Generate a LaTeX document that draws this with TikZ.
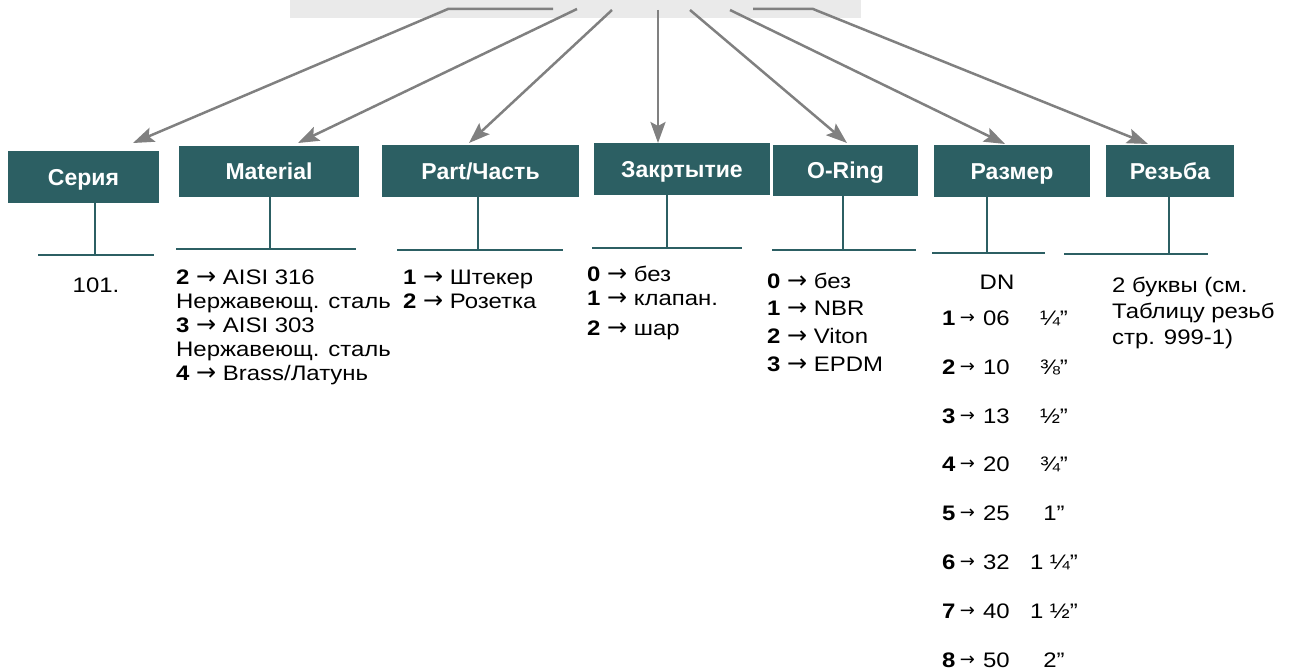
\documentclass[tikz,border=0pt]{standalone}
\usepackage{fontspec}
\setmainfont{Liberation Sans}
\newfontfamily\bodyfont[FakeStretch=1.14]{Liberation Sans}
\newfontfamily\arrowfont{DejaVu Sans}
\usepackage{tikz}
\usetikzlibrary{arrows.meta, positioning}

\definecolor{headteal}{HTML}{2C5F63}
\definecolor{linkgrey}{HTML}{808080}
\definecolor{bargrey}{HTML}{EAEAEA}

\newcommand{\arr}{{\arrowfont\fontsize{24}{24}\selectfont →}}
\newcommand{\sarr}{\raisebox{2pt}{\arrowfont\fontsize{18}{18}\selectfont →}}
\newcommand{\dnrow}[3]{\makebox[41pt][l]{\textbf{#1}\hspace{4.5pt}\sarr}\makebox[41pt][l]{#2}\makebox[60pt][c]{#3}}

\begin{document}
\begin{tikzpicture}[x=1pt, y=-1pt, node distance=33.4pt]
        \tikzstyle{header} = [rectangle, fill=headteal, text=white, inner sep=0pt, text height=16.5pt, text depth=0pt, font=\fontsize{23}{27}\selectfont\bfseries]
        \tikzstyle{stem} = [draw=headteal, line width=2pt]
        \tikzstyle{link} = [draw=linkgrey, line width=2.5pt, -{Stealth[length=21pt, width=15pt, inset=4pt]}]
        \tikzstyle{item} = [inner sep=0pt, align=left, anchor=north west, font=\bodyfont\fontsize{21}{24}\selectfont]
        \tikzstyle{dnrow} = [inner sep=0pt, text height=15pt, text depth=0pt, font=\bodyfont\fontsize{21}{24}\selectfont]

        \useasboundingbox (0,0) rectangle (1303,671);

        % Code bar
        \node (code) [rectangle, fill=bargrey, minimum width=571pt, minimum height=18pt, inner sep=0pt] at (575,9) {};

        % Headers
        \node (serie) [header, minimum width=151pt, minimum height=52pt] at (83.5,177) {Серия};
        \node (mat) [header, minimum width=180pt, minimum height=51pt] at (269,171.5) {Material};
        \node (part) [header, minimum width=197pt, minimum height=52pt] at (480.5,171) {Part/Часть};
        \node (close) [header, minimum width=176pt, minimum height=52pt] at (682,169) {Закртытие};
        \node (ring) [header, minimum width=145pt, minimum height=51pt] at (845.5,170.5) {O-Ring};
        \node (size) [header, minimum width=156pt, minimum height=52pt] at (1012,171) {Размер};
        \node (thread) [header, minimum width=128pt, minimum height=52pt] at (1170,171) {Резьба};

        % Arrow start and end points
        \coordinate (s1) at (553,9);
        \coordinate (b1) at (448,9);
        \coordinate (s2) at (577,9);
        \coordinate (s3) at (612,10);
        \coordinate (s4) at (658,10);
        \coordinate (s5) at (690,10);
        \coordinate (s6) at (730,10);
        \coordinate (s7) at (753,9);
        \coordinate (b7) at (813,9);
        \coordinate (t1) at (133,143);
        \coordinate (t2) at (298,143);
        \coordinate (t3) at (469,143);
        \coordinate (t4) at (658,143);
        \coordinate (t5) at (847,143);
        \coordinate (t6) at (1005,144);
        \coordinate (t7) at (1148,144);

        % Arrows
        \draw [link] (s1) -- (b1) -- (t1);
        \draw [link] (s2) -- (t2);
        \draw [link] (s3) -- (t3);
        \draw [link] (s4) -- (t4);
        \draw [link] (s5) -- (t5);
        \draw [link] (s6) -- (t6);
        \draw [link] (s7) -- (b7) -- (t7);

        % Rules under the headers
        \coordinate (r1) at (95,255);
        \coordinate (r2) at (270,249);
        \coordinate (r3) at (478,250);
        \coordinate (r4) at (667,248);
        \coordinate (r5) at (843,250);
        \coordinate (r6) at (987,253);
        \coordinate (r7) at (1169,254);
        \draw [stem] (serie.south -| r1) -- (r1);
        \draw [stem] (r1) ++(-57,0) -- ++(116,0);
        \draw [stem] (mat.south -| r2) -- (r2);
        \draw [stem] (r2) ++(-94,0) -- ++(180,0);
        \draw [stem] (part.south -| r3) -- (r3);
        \draw [stem] (r3) ++(-81,0) -- ++(166,0);
        \draw [stem] (close.south -| r4) -- (r4);
        \draw [stem] (r4) ++(-75,0) -- ++(150,0);
        \draw [stem] (ring.south -| r5) -- (r5);
        \draw [stem] (r5) ++(-71,0) -- ++(144,0);
        \draw [stem] (size.south -| r6) -- (r6);
        \draw [stem] (r6) ++(-55,0) -- ++(113,0);
        \draw [stem] (thread.south -| r7) -- (r7);
        \draw [stem] (r7) ++(-105,0) -- ++(144,0);

        % Values
        \node (serv) [inner sep=0pt, font=\bodyfont\fontsize{21}{24}\selectfont] at (96,285) {101.};
        \node (matv) [item] at (176,269.5) {\textbf{2} \arr{} AISI 316\\Нержавеющ. сталь\\\textbf{3} \arr{} AISI 303\\Нержавеющ. сталь\\\textbf{4} \arr{} Brass/Латунь};
        \node (partv) [item] at (403,269.5) {\textbf{1} \arr{} Штекер\\\textbf{2} \arr{} Розетка};
        \node (closev) [item] at (587,265.5) {\textbf{0} \arr{} без\\\textbf{1} \arr{} клапан.\\[6pt]\textbf{2} \arr{} шар};
        \node (ringv) [item, font=\bodyfont\fontsize{21}{27.7}\selectfont] at (767,272.5) {\textbf{0} \arr{} без\\\textbf{1} \arr{} NBR\\\textbf{2} \arr{} Viton\\\textbf{3} \arr{} EPDM};
        \node (threadv) [item, font=\bodyfont\fontsize{21}{26}\selectfont] at (1112,277) {2 буквы (см.\\Таблицу резьб\\стр. 999-1)};

        % DN table
        \node (dn) [dnrow] at (997,282) {DN};
        \node (dn1) [dnrow] at (1013,318) {\dnrow{1}{06}{¼”}};
        \node (dn2) [dnrow, below=of dn1] {\dnrow{2}{10}{⅜”}};
        \node (dn3) [dnrow, below=of dn2] {\dnrow{3}{13}{½”}};
        \node (dn4) [dnrow, below=of dn3] {\dnrow{4}{20}{¾”}};
        \node (dn5) [dnrow, below=of dn4] {\dnrow{5}{25}{1”}};
        \node (dn6) [dnrow, below=of dn5] {\dnrow{6}{32}{1 ¼”}};
        \node (dn7) [dnrow, below=of dn6] {\dnrow{7}{40}{1 ½”}};
        \node (dn8) [dnrow, below=of dn7] {\dnrow{8}{50}{2”}};
\end{tikzpicture}
\end{document}
